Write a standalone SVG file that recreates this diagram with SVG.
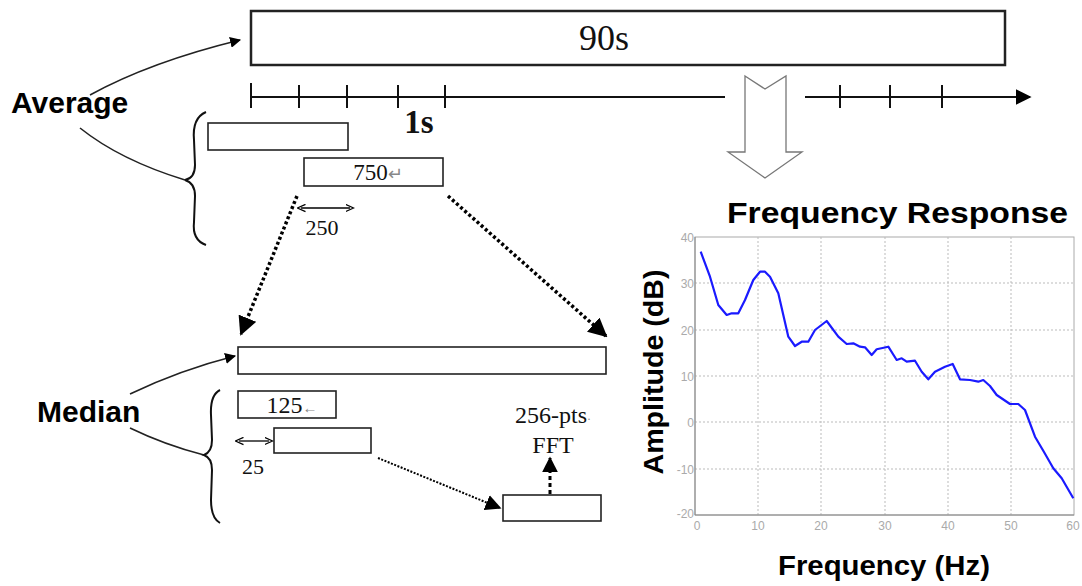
<svg xmlns="http://www.w3.org/2000/svg" width="1082" height="586" viewBox="0 0 1082 586">
<defs>
<marker id="ah" viewBox="0 0 10 10" refX="9" refY="5" markerWidth="11" markerHeight="11" markerUnits="userSpaceOnUse" orient="auto"><path d="M0,0 L10,5 L0,10 z" fill="#000"/></marker>
<marker id="ahB" viewBox="0 0 10 10" refX="9" refY="5" markerWidth="16" markerHeight="16" markerUnits="userSpaceOnUse" orient="auto"><path d="M0,0 L10,5 L0,10 z" fill="#000"/></marker>
<marker id="ahS" viewBox="0 0 10 10" refX="9" refY="5" markerWidth="19" markerHeight="19" markerUnits="userSpaceOnUse" orient="auto"><path d="M0,0 L10,5 L0,10 z" fill="#000"/></marker>
<marker id="dbl" viewBox="0 0 10 10" refX="5" refY="5" markerWidth="9" markerHeight="9" markerUnits="userSpaceOnUse" orient="auto-start-reverse"><path d="M0,1 L9,5 L0,9" fill="none" stroke="#000" stroke-width="1.5"/></marker>
</defs>
<style>
.box{fill:#fff;stroke:#222;stroke-width:1.6}
.bigbox{fill:#fff;stroke:#222;stroke-width:2.5}
.serif{font-family:"Liberation Serif",serif;fill:#111}
.lab{font-family:"Liberation Sans",Arial,sans-serif;font-weight:bold;fill:#000}
.grid{stroke:#bbb;stroke-width:1;stroke-dasharray:2 2}
.tick{font-family:"Liberation Sans",Arial,sans-serif;font-size:12px;fill:#aaa}
.line{fill:none;stroke:#222;stroke-width:1.6}
</style>
<rect width="1082" height="586" fill="#fff"/>

<g id="timeline">
<rect class="bigbox" x="251" y="11" width="754" height="54"/>
<text class="serif" x="604" y="50" font-size="36" text-anchor="middle">90s</text>
<line x1="251" y1="97" x2="725" y2="97" stroke="#111" stroke-width="2"/>
<line x1="805" y1="97" x2="1030" y2="97" stroke="#111" stroke-width="2" marker-end="url(#ahB)"/>
<g stroke="#111" stroke-width="2">
<line x1="251" y1="83" x2="251" y2="108"/><line x1="299" y1="85" x2="299" y2="108"/><line x1="347" y1="85" x2="347" y2="108"/><line x1="398" y1="85" x2="398" y2="108"/><line x1="445" y1="85" x2="445" y2="108"/>
<line x1="840" y1="85" x2="840" y2="108"/><line x1="890" y1="85" x2="890" y2="108"/><line x1="942" y1="85" x2="942" y2="108"/>
</g>
<text class="serif" x="419" y="133" font-size="33" font-weight="bold" text-anchor="middle">1s</text>
</g>

<g id="hollow-arrow">
<path d="M745,76 L765,89 L786,76 L786,152 L802,152 L765,178 L728,152 L745,152 Z" fill="#fff" stroke="#777" stroke-width="1.3"/>
</g>

<g id="average">
<text class="lab" x="11" y="113" font-size="30">Average</text>
<path class="line" d="M90,95 Q150,62 240,40" stroke-width="1.4" marker-end="url(#ah)"/>
<path class="line" d="M80,128 Q120,160 185,180" stroke-width="1.4"/>
<path d="M206,112 Q192,118 194,140 L195,165 Q195,178 185,180 Q195,183 195,196 L194,222 Q192,240 206,245" fill="none" stroke="#111" stroke-width="2"/>
<rect class="box" x="208" y="123" width="140" height="27"/>
<rect class="box" x="304" y="158" width="139" height="28"/>
<text class="serif" x="378" y="180" font-size="23" text-anchor="middle">750<tspan fill="#888" font-size="18">↵</tspan></text>
<line x1="301" y1="208" x2="350" y2="208" stroke="#000" stroke-width="1.3" marker-start="url(#dbl)" marker-end="url(#dbl)"/>
<text class="serif" x="322" y="235" font-size="22" text-anchor="middle">250</text>
</g>

<g id="connectors">
<line x1="297" y1="196" x2="241" y2="334" stroke="#000" stroke-width="3.5" stroke-dasharray="3 2.5" marker-end="url(#ahS)"/>
<line x1="448" y1="196" x2="606" y2="336" stroke="#000" stroke-width="3.5" stroke-dasharray="3 2.5" marker-end="url(#ahS)"/>
<line x1="378" y1="458" x2="500" y2="508" stroke="#000" stroke-width="2" stroke-dasharray="2 1.5" marker-end="url(#ahB)"/>
<line x1="550" y1="494" x2="550" y2="458" stroke="#000" stroke-width="3" stroke-dasharray="4 3" marker-end="url(#ahB)"/>
</g>

<g id="median">
<text class="lab" x="37" y="422" font-size="30">Median</text>
<path class="line" d="M130,394 Q180,370 235,356" stroke-width="1.4" marker-end="url(#ah)"/>
<path class="line" d="M130,428 Q165,445 204,455" stroke-width="1.4"/>
<path d="M220,390 Q210,395 211,415 L212,440 Q212,452 204,455 Q212,458 212,470 L211,500 Q211,518 220,523" fill="none" stroke="#111" stroke-width="2"/>
<rect class="box" x="238" y="347" width="368" height="27"/>
<rect class="box" x="238" y="391" width="98" height="27"/>
<text class="serif" x="292" y="413" font-size="24" text-anchor="middle">125<tspan fill="#888" font-size="15">←</tspan></text>
<rect class="box" x="274" y="428" width="97" height="25"/>
<line x1="239" y1="441" x2="269" y2="441" stroke="#000" stroke-width="1.3" marker-start="url(#dbl)" marker-end="url(#dbl)"/>
<text class="serif" x="253" y="474" font-size="22" text-anchor="middle">25</text>
<rect class="box" x="503" y="495" width="98" height="26"/>
<text class="serif" x="553" y="423" font-size="24" text-anchor="middle">256-pts<tspan fill="#888" font-size="12">·</tspan></text>
<text class="serif" x="553" y="453" font-size="24" text-anchor="middle">FFT</text>
</g>

<g id="chart">
<text class="lab" x="727" y="223" font-size="30" textLength="341" lengthAdjust="spacingAndGlyphs">Frequency Response</text>
<rect x="695" y="237" width="379" height="278" fill="#fff" stroke="#aaa" stroke-width="1"/>
<g class="grid">
<line x1="758" y1="237" x2="758" y2="515"/><line x1="821" y1="237" x2="821" y2="515"/><line x1="885" y1="237" x2="885" y2="515"/><line x1="948" y1="237" x2="948" y2="515"/><line x1="1011" y1="237" x2="1011" y2="515"/>
<line x1="695" y1="283" x2="1074" y2="283"/><line x1="695" y1="330" x2="1074" y2="330"/><line x1="695" y1="376" x2="1074" y2="376"/><line x1="695" y1="422" x2="1074" y2="422"/><line x1="695" y1="469" x2="1074" y2="469"/>
</g>
<line x1="695" y1="237" x2="695" y2="515" stroke="#888" stroke-width="1"/>
<line x1="695" y1="515" x2="1074" y2="515" stroke="#888" stroke-width="1"/>
<g class="tick" text-anchor="end">
<text x="694" y="242">40</text><text x="694" y="288">30</text><text x="694" y="335">20</text><text x="694" y="381">10</text><text x="694" y="427">0</text><text x="694" y="474">-10</text><text x="694" y="518">-20</text>
</g>
<g class="tick" text-anchor="middle">
<text x="697" y="530">0</text><text x="758" y="530">10</text><text x="821" y="530">20</text><text x="885" y="530">30</text><text x="948" y="530">40</text><text x="1011" y="530">50</text><text x="1073" y="530">60</text>
</g>
<polyline fill="none" stroke="#1a1aff" stroke-width="2.2" stroke-linejoin="round" points="700.7,251.7 710,276.7 718.3,305 726.7,315 731.7,313.3 738.3,313.3 745,300 753.3,280 760,271.7 765,271.7 770,276.7 778.3,293.3 788.3,336.7 795,346 801.7,341.7 808.3,341.7 815,330 826.7,321 838.3,336.7 846.7,344 853.3,343.3 860,346.7 865,347.3 871.7,355 876.7,349.3 888.3,346.7 896.7,360 901.7,358.3 906.7,361.7 915,360.7 921.7,371.7 928.3,379.3 935,371.7 945,366.7 952.7,364 960,379.3 970,380 978.3,381.7 983.3,380 990,386 996.7,395 1010,404 1018.3,404 1025,410 1035,436.7 1044,452 1053.3,468.3 1061.7,478.3 1073.3,498.3"/>
<text class="lab" transform="translate(663,372) rotate(-90)" font-size="28" text-anchor="middle" textLength="205" lengthAdjust="spacingAndGlyphs">Amplitude (dB)</text>
<text class="lab" x="778" y="575" font-size="28" textLength="212" lengthAdjust="spacingAndGlyphs">Frequency (Hz)</text>
</g>
</svg>
